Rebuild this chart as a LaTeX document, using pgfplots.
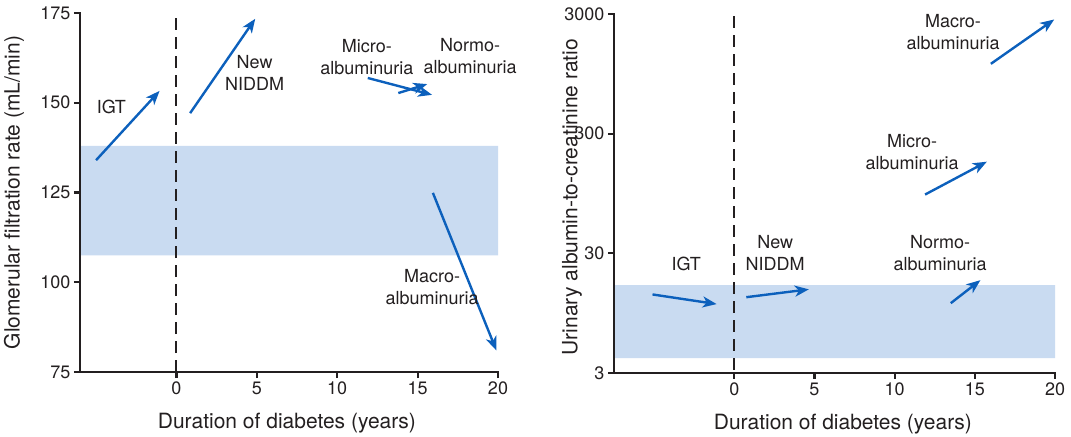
\documentclass[border=0pt]{standalone}
\usepackage{fontspec}
\setmainfont{TeX Gyre Heros}
\usepackage{pgfplots}
\pgfplotsset{compat=1.18}
\usetikzlibrary{arrows.meta}

\definecolor{band}{RGB}{201,219,241}
\definecolor{arr}{RGB}{12,96,188}
\definecolor{ink}{RGB}{35,31,32}

\pgfplotsset{
  panel/.style={
    scale only axis, height=359pt,
    axis x line*=bottom, axis y line*=left,
    axis line style={line width=2pt, ink},
    tick align=outside, major tick length=6pt,
    tick style={line width=2pt, ink},
    xmax=20, xtick={0,5,...,20},
    tick label style={font=\fontsize{18}{20}\selectfont, text=ink},
    label style={font=\fontsize{21}{24}\selectfont, text=ink},
    /pgf/number format/assume math mode=true,
    clip=false, unbounded coords=jump,
  },
  frame/.style={ink, line width=2.2pt, line join=miter, line cap=rect},
  trend/.style={arr, line width=2.4pt, -{Stealth[length=14pt,width=11pt,inset=4pt]}},
  zero/.style={ink, line width=2pt, dash pattern=on 12pt off 7pt},
}
\tikzset{note/.style={font=\fontsize{18}{22}\selectfont, text=ink, align=center}}

\begin{document}
\begin{tikzpicture}

% left: GFR
\begin{axis}[panel, width=418pt,
    xmin=-6, ymin=75, ymax=175, ytick={75,100,...,175},
    xlabel={Duration of diabetes (years)},
    ylabel={Glomerular filtration rate (mL/min)},
    xlabel style={at={(axis description cs:0.495,0)}, anchor=base, yshift=-56pt},
    ylabel style={at={(axis description cs:-0.158,0.5)}, anchor=center},
  ]
\addplot[draw=none, fill=band] coordinates {(-6,107.5) (20,107.5) (20,138) (-6,138) (-6,107.5)};
\addplot[zero] coordinates {(0,75) (0,175)};
% axis lines and ticks
\addplot[frame] coordinates {(-6,175) (-6,75) (20,75)};
\addplot[frame, line cap=butt] coordinates {
  (0,75) (0,73.33) (nan,nan) (5,75) (5,73.33) (nan,nan) (10,75) (10,73.33) (nan,nan)
  (15,75) (15,73.33) (nan,nan) (20,75) (20,73.33) (nan,nan)
  (-6,75) (-6.373,75) (nan,nan) (-6,100) (-6.373,100) (nan,nan) (-6,125) (-6.373,125) (nan,nan)
  (-6,150) (-6.373,150) (nan,nan) (-6,175) (-6.373,175)};
\addplot[trend] coordinates {(-5,134) (-1.05,153.3)};
\addplot[trend] coordinates {(0.85,147.1) (4.9,173.4)};
\addplot[trend] coordinates {(11.9,156.9) (15.9,152.2)};
\addplot[trend] coordinates {(13.8,152.7) (15.6,155.2)};
\addplot[trend] coordinates {(15.95,124.9) (19.9,81)};
\node[note] at (axis cs:-4.05,148.8) {IGT};
\node[note] at (axis cs:4.86,158.3) {New\\NIDDM};
\node[note] at (axis cs:11.84,162.7) {Micro-\\albuminuria};
\node[note] at (axis cs:18.26,163) {Normo-\\albuminuria};
\node[note] at (axis cs:15.9,98.7) {Macro-\\albuminuria};
\end{axis}

% right: albumin-to-creatinine ratio
\begin{axis}[panel, width=441pt, at={(534pt,-1pt)}, anchor=south west,
    xmin=-7.5, ymode=log, ymin=3, ymax=3000,
    ytick={3,30,300,3000}, yticklabels={3,30,300,3000}, yminorticks=false,
    xlabel={Duration of diabetes (years)},
    ylabel={Urinary albumin-to-creatinine ratio},
    xlabel style={at={(axis description cs:0.519,0)}, anchor=base, yshift=-56pt},
    ylabel style={at={(axis description cs:-0.095,0.49)}, anchor=center},
  ]
\addplot[draw=none, fill=band] coordinates {(-7.5,4) (20,4) (20,16.3) (-7.5,16.3) (-7.5,4)};
\addplot[zero] coordinates {(0,3.2) (0,3000)};
% axis lines and ticks
\addplot[frame] coordinates {(-7.5,3000) (-7.5,3) (20,3)};
\addplot[frame, line cap=butt] coordinates {
  (0,3) (0,2.674) (nan,nan) (5,3) (5,2.674) (nan,nan) (10,3) (10,2.674) (nan,nan)
  (15,3) (15,2.674) (nan,nan) (20,3) (20,2.674) (nan,nan)
  (-7.5,3) (-7.874,3) (nan,nan) (-7.5,30) (-7.874,30) (nan,nan)
  (-7.5,300) (-7.874,300) (nan,nan) (-7.5,3000) (-7.874,3000)};
\addplot[trend] coordinates {(-5.1,13.6) (-1.1,11.3)};
\addplot[trend] coordinates {(0.75,12.9) (4.65,15)};
\addplot[trend] coordinates {(13.5,11.5) (15.35,17.9)};
\addplot[trend] coordinates {(11.9,93) (15.75,175)};
\addplot[trend] coordinates {(16,1150) (19.95,2700)};
\node[note] at (axis cs:-2.99,24.3) {IGT};
\node[note] at (axis cs:2.55,30) {New\\NIDDM};
\node[note] at (axis cs:12.83,30) {Normo-\\albuminuria};
\node[note] at (axis cs:11.09,212) {Micro-\\albuminuria};
\node[note] at (axis cs:13.64,2124) {Macro-\\albuminuria};
\end{axis}
\path (-80pt,-62pt) rectangle (991pt,372pt);
\end{tikzpicture}
\end{document}
